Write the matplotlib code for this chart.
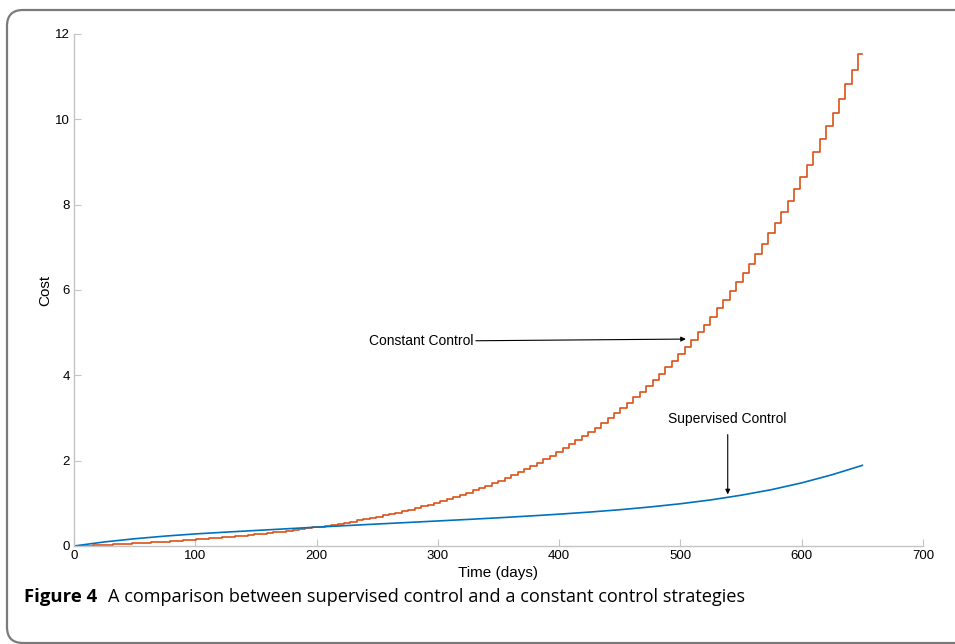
import numpy as np
import matplotlib
matplotlib.use("Agg")
import matplotlib.pyplot as plt
from matplotlib.patches import FancyBboxPatch
from matplotlib.transforms import IdentityTransform

# Constant control: cost held over each control interval (5.3 days)
STEP_DAYS = 5.3
const_cost = [
    0.000, 0.005, 0.011, 0.017, 0.024, 0.030, 0.037, 0.044, 0.052, 0.060,
    0.068, 0.076, 0.085, 0.094, 0.104, 0.113, 0.123, 0.134, 0.144, 0.156,
    0.167, 0.179, 0.191, 0.204, 0.217, 0.230, 0.244, 0.259, 0.273, 0.289,
    0.305, 0.321, 0.339, 0.356, 0.375, 0.394, 0.413, 0.434, 0.455, 0.477,
    0.500, 0.524, 0.549, 0.574, 0.601, 0.629, 0.657, 0.687, 0.718, 0.750,
    0.784, 0.819, 0.855, 0.892, 0.931, 0.972, 1.014, 1.058, 1.103, 1.150,
    1.199, 1.250, 1.303, 1.358, 1.415, 1.474, 1.535, 1.599, 1.665, 1.733,
    1.804, 1.878, 1.954, 2.033, 2.115, 2.200, 2.288, 2.379, 2.473, 2.571,
    2.672, 2.776, 2.884, 2.996, 3.112, 3.231, 3.355, 3.482, 3.614, 3.751,
    3.891, 4.036, 4.186, 4.341, 4.501, 4.665, 4.835, 5.011, 5.191, 5.377,
    5.569, 5.767, 5.970, 6.180, 6.396, 6.619, 6.847, 7.083, 7.325, 7.575,
    7.831, 8.095, 8.366, 8.645, 8.931, 9.226, 9.528, 9.839, 10.158, 10.486,
    10.822, 11.167, 11.522,
]
T_END = 650

# Supervised control cost
sup_days = [0, 25, 50, 75, 100, 125, 150, 175, 200, 225, 250, 275, 300, 325,
            350, 375, 400, 425, 450, 475, 500, 525, 550, 575, 600, 625, 650]
sup_cost = [0.0, 0.095, 0.17, 0.232, 0.283, 0.325, 0.364, 0.403, 0.442,
            0.479, 0.515, 0.551, 0.587, 0.623, 0.661, 0.702, 0.746, 0.795,
            0.85, 0.915, 0.99, 1.08, 1.19, 1.32, 1.48, 1.67, 1.89]

x_ticks = [0, 100, 200, 300, 400, 500, 600, 700]
y_ticks = [0, 2, 4, 6, 8, 10, 12]

BLUE = "#0072BD"
ORANGE = "#D95319"
AXIS_GRAY = "#c4c4c4"

plt.rcParams["font.family"] = ["Liberation Sans", "DejaVu Sans"]

fig = plt.figure(figsize=(9.55, 6.44), dpi=100)
ax = fig.add_axes([74 / 955, 1 - 546 / 644, 849 / 955, 512 / 644])

t_const = list(np.arange(len(const_cost)) * STEP_DAYS) + [T_END]
y_const = const_cost + [const_cost[-1]]
ax.plot(t_const, y_const, color=ORANGE, lw=1.2, drawstyle="steps-post")
ax.plot(sup_days, sup_cost, color=BLUE, lw=1.2)

ax.set_xlim(0, 700)
ax.set_ylim(0, 12)
ax.set_xticks(x_ticks)
ax.set_yticks(y_ticks)
for side in ("top", "right"):
    ax.spines[side].set_visible(False)
for side in ("left", "bottom"):
    ax.spines[side].set_color(AXIS_GRAY)
    ax.spines[side].set_linewidth(1.0)
ax.tick_params(direction="in", length=5, width=0.8, color=AXIS_GRAY,
               labelsize=9.5, labelcolor="black", pad=3)
ax.set_xlabel("Time (days)", fontsize=11, labelpad=3)
ax.set_ylabel("Cost", fontsize=11, labelpad=2)

arrow = dict(arrowstyle="-|>", color="black", lw=0.8,
             mutation_scale=7, shrinkA=0, shrinkB=0)
ax.annotate("Constant Control", xy=(504.5, 4.85), xytext=(329, 4.80),
            ha="right", va="center", fontsize=10, arrowprops=arrow)
ax.annotate("Supervised Control", xy=(539, 1.21), xytext=(539, 2.97),
            ha="center", va="center", fontsize=10,
            arrowprops=dict(arrow, shrinkA=4))

# rounded frame around the figure panel
frame = FancyBboxPatch((7, 1), 1100, 633, boxstyle="round,pad=0,rounding_size=16",
                       transform=IdentityTransform(), facecolor="none",
                       edgecolor="#7a7a7a", lw=1.6)
fig.patches.append(frame)

fig.text(24 / 955, 1 - 597 / 644, "Figure 4", fontsize=13.3, fontweight="bold",
         family=["Open Sans", "DejaVu Sans"], va="center", ha="left")
fig.text(108 / 955, 1 - 597 / 644,
         "A comparison between supervised control and a constant control strategies",
         fontsize=13.1, family=["Open Sans", "DejaVu Sans"], va="center", ha="left")

fig.savefig("out.png", dpi=100)
